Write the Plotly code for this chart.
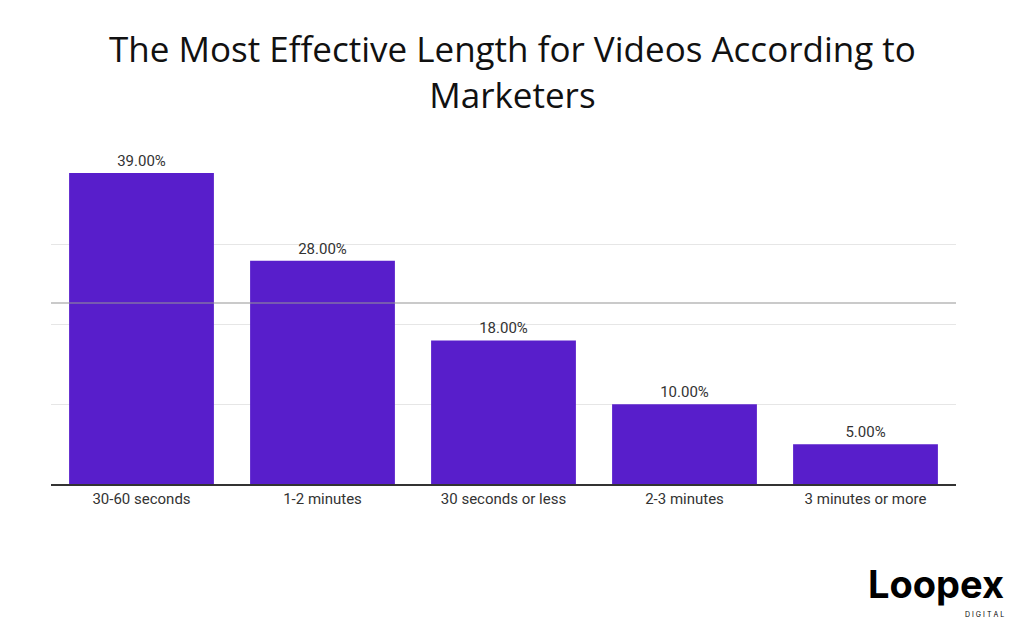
import plotly.graph_objects as go

categories = ["30-60 seconds", "1-2 minutes", "30 seconds or less", "2-3 minutes", "3 minutes or more"]
values = [39, 28, 18, 10, 5]
labels = ["39.00%", "28.00%", "18.00%", "10.00%", "5.00%"]

fig = go.Figure(go.Bar(
    x=categories, y=values, text=labels, textposition="outside",
    marker=dict(color="#581ecb", line=dict(width=0)),
    textfont=dict(family="Roboto", size=15, color="#333333"),
    cliponaxis=False,
))
fig.update_layout(
    width=1020, height=629, plot_bgcolor="white", paper_bgcolor="white",
    margin=dict(l=43, r=72, t=157, b=153),
    bargap=0.2, showlegend=False,
    xaxis=dict(showline=True, linecolor="#333333", linewidth=1.5, ticks="", ticklen=4,
               tickfont=dict(family="Roboto", size=15, color="#333333")),
    yaxis=dict(range=[0, 40], showticklabels=False, showgrid=True, gridcolor="#e6e6e6",
               tickvals=[10, 20, 30], zeroline=False),
)
fig.add_annotation(text="The Most Effective Length for Videos According to<br>Marketers",
                   xref="paper", yref="paper", x=0.51, y=1 + 142 / 319, xanchor="center", yanchor="top",
                   showarrow=False, align="center",
                   font=dict(family="Open Sans", size=35, color="#111111"))
fig.add_shape(type="line", xref="paper", yref="y", x0=0, x1=1, y0=22.7, y1=22.7,
              line=dict(color="rgba(150,150,150,0.5)", width=2))
fig.add_annotation(text="<b>Loopex</b>", xref="paper", yref="paper", x=1.055, y=-0.315,
                   xanchor="right", yanchor="middle", showarrow=False,
                   font=dict(family="Inter", size=38, color="#000000"))
fig.add_annotation(text="D I G I T A L", xref="paper", yref="paper", x=1.055, y=-0.41,
                   xanchor="right", yanchor="middle", showarrow=False,
                   font=dict(family="Inter", size=7, color="#000000"))
fig.write_html("out.html")
